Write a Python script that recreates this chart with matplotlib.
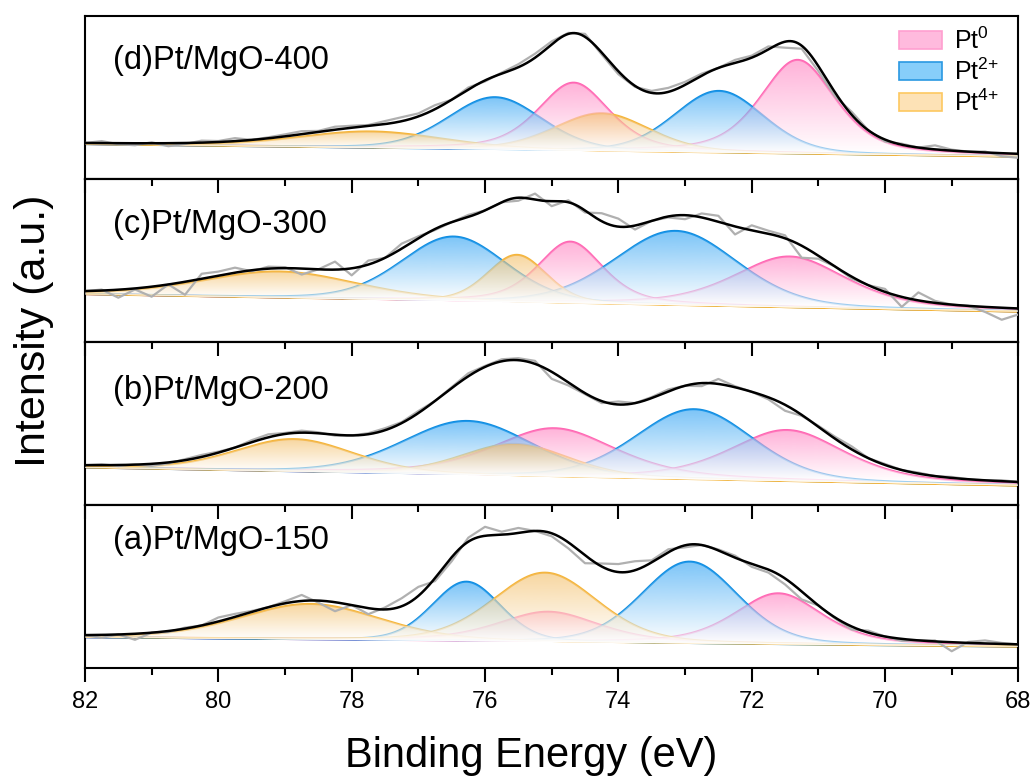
import numpy as np
import matplotlib.pyplot as plt
from matplotlib.patches import PathPatch, Patch
from matplotlib.path import Path
from matplotlib.colors import to_rgb

plt.rcParams['font.family'] = ['Liberation Sans', 'DejaVu Sans']
plt.rcParams['mathtext.fontset'] = 'custom'
plt.rcParams['mathtext.rm'] = 'Liberation Sans'
plt.rcParams['mathtext.default'] = 'regular'

# panels, bottom to top
panel_labels = ["(a)Pt/MgO-150", "(b)Pt/MgO-200", "(c)Pt/MgO-300", "(d)Pt/MgO-400"]
label_y = [0.785, 0.706, 0.724, 0.73]

major_ticks = [82, 80, 78, 76, 74, 72, 70, 68]
minor_ticks = [81, 79, 77, 75, 73, 71, 69]
tick_labels = ["82", "80", "78", "76", "74", "72", "70", "68"]

# linear background (intensity at 82 eV and at 68 eV)
base_hi = [31.0, 37.6, 47.9, 34.9]
base_lo = [21.6, 19.6, 30.5, 22.4]

# Pt 4f doublets: [4f7/2, 4f5/2] for each panel
pt0_pos = [[71.60, 75.05], [71.47, 74.96], [71.43, 74.72], [71.31, 74.67]]
pt0_amp = [[50.9, 30.2], [51.1, 48.4], [50.8, 61.6], [93.8, 68.0]]
pt0_fwhm = [[1.56, 1.80], [2.04, 2.18], [2.00, 1.16], [1.33, 1.27]]

pt2_pos = [[72.93, 76.28], [72.86, 76.26], [73.14, 76.47], [72.49, 75.85]]
pt2_amp = [[81.7, 59.4], [70.1, 54.0], [74.3, 64.5], [61.7, 52.4]]
pt2_fwhm = [[1.69, 1.21], [2.06, 2.28], [2.16, 1.85], [1.58, 1.66]]

pt4_pos = [[75.10, 78.62], [75.55, 78.86], [75.52, 79.08], [74.25, 77.70]]
pt4_amp = [[69.2, 35.6], [32.0, 32.5], [47.4, 26.3], [37.8, 16.5]]
pt4_fwhm = [[1.85, 2.48], [1.90, 2.10], [1.05, 2.75], [1.68, 2.60]]

# lorentzian share of each species
eta = [0.5, 0.2, 0.25]

# raw spectrum minus fit, every 0.25 eV from 82 to 68 eV
raw_dev = [
    [0, -3, 0, -6, 0, -1, 1, 0, 4, 3, 1, 0, 2, 6, -2, -9, 0, -6, 2, 8, 9, -3, -4, 4, 9, 3, 5, 0,
     -3, -6, -8, 3, 8, 9, 2, 3, -2, 0, 1, 2, -3, -3, -6, -8, 0, -1, -3, 2, 0, -2, 0, 1, -9, 1, 3, 1, 0],
    [0, 1, -1, 0, -2, -1, 1, 2, 1, 0, 2, 3, 1, 2, 1, -1, 0, 1, 2, 1, 2, 0, 1, 3, 1, 2, 2, 3,
     -7, -3, -1, -2, 3, 0, 1, 2, 0, -3, 5, 1, 0, -2, -6, -1, 1, 2, 3, 0, 1, 0, 1, 0, 1, 0, 0, 1, 0],
    [0, 1, -8, -1, -10, 0, -13, 5, 4, 5, -1, 2, 1, -6, 0, 8, -7, 4, 0, 5, 2, -1, 0, 2, 0, 0, -3, 6,
     -5, 2, -2, 8, 8, -4, 0, -1, -4, 4, 6, -8, 5, 3, 3, -12, -3, 0, -2, 0, 3, -10, 8, 2, 0, 0, -5, -12, -6],
    [0, 2, -1, -2, 1, -3, -1, 2, 1, 3, 0, 1, 2, 3, 1, 3, 2, 1, 3, 4, 3, 4, 0, 2, -1, 1, 3, 4,
     3, 1, 3, -2, -3, -1, 2, 4, 3, 2, 0, 3, 2, 3, -6, -3, -5, -4, 3, 0, -2, 1, 0, 4, 1, 0, 1, -3, -4],
]

species_names = ["Pt$^{0}$", "Pt$^{2{+}}$", "Pt$^{4{+}}$"]
line_colors = ["#ff66b3", "#108de0", "#f5b53a"]
fill_colors = ["#ff80c0", "#259ef3", "#f3bc61"]
legend_face = ["#ffbadd", "#87cefa", "#fde2b6"]
legend_edge = ["#ff9fd0", "#2a98e2", "#fdc860"]


def pseudo_voigt(x, pos, amp, fwhm, mix):
    u = (x - pos) / fwhm
    return amp * ((1 - mix) * np.exp(-4 * np.log(2) * u ** 2) + mix / (1 + 4 * u ** 2))


def peaks_of(i):
    out = []
    for s, (pos, amp, fw) in enumerate([(pt0_pos, pt0_amp, pt0_fwhm),
                                        (pt2_pos, pt2_amp, pt2_fwhm),
                                        (pt4_pos, pt4_amp, pt4_fwhm)]):
        for k in range(2):
            out.append((s, pos[i][k], amp[i][k], fw[i][k]))
    return out


def background(x, i):
    return base_lo[i] + (base_hi[i] - base_lo[i]) * (x - 68) / 14


def fit_curve(x, i):
    y = background(x, i)
    for s, p, a, w in peaks_of(i):
        y = y + pseudo_voigt(x, p, a, w, eta[s])
    return y


def gradient_fill(ax, x, lower, upper, color, alpha=0.6, zorder=3):
    verts = np.concatenate([np.column_stack([x, upper]),
                            np.column_stack([x[::-1], lower[::-1]])])
    patch = PathPatch(Path(verts), facecolor="none", edgecolor="none")
    ax.add_patch(patch)
    k = np.argmax(upper - lower)
    y0, y1 = lower[k], upper[k]
    ys = np.linspace(lower.min(), y1, 256)
    frac = np.clip((ys - y0) / (y1 - y0), 0, 1)[:, None]
    rgb = (1 - frac) * np.ones(3) + frac * np.array(to_rgb(color))
    img = np.zeros((256, 1, 4))
    img[:, 0, :3] = rgb
    img[:, 0, 3] = alpha
    im = ax.imshow(img, extent=(x.min(), x.max(), lower.min(), y1), origin="lower",
                   aspect="auto", zorder=zorder, interpolation="bilinear")
    im.set_clip_path(patch)


fig = plt.figure(figsize=(10.34, 7.76), dpi=100)
axes = fig.subplots(4, 1)
fig.subplots_adjust(left=0.0822, right=0.9849, top=0.9794, bottom=0.1388, hspace=0)

x = np.linspace(82, 68, 1401)

for row, ax in enumerate(axes):
    i = 3 - row
    bg = background(x, i)
    for s, p, a, w in peaks_of(i):
        top = bg + pseudo_voigt(x, p, a, w, eta[s])
        ax.plot(x, top, color=line_colors[s], lw=1.5, zorder=2)
        gradient_fill(ax, x, bg, top, fill_colors[s], alpha=0.6, zorder=3)

    xr = np.linspace(82, 68, len(raw_dev[i]))
    ax.plot(xr, fit_curve(xr, i) + np.array(raw_dev[i]), color="#b0b0b0", lw=1.6, zorder=5)
    ax.plot(x, fit_curve(x, i), color="black", lw=1.8, zorder=6)

    ax.text(0.0297, label_y[i], panel_labels[i], transform=ax.transAxes,
            fontsize=23.5, va="center", ha="left")

    ax.set_ylim(0, 163)
    ax.set_yticks([])
    ax.set_xlim(82, 68)
    if i == 0:
        ax.set_xticks(major_ticks)
        ax.set_xticks(minor_ticks, minor=True)
        ax.set_xticklabels(tick_labels, fontsize=17)
        ax.tick_params(axis="x", which="major", direction="out", length=10, width=1.5, pad=6)
        ax.tick_params(axis="x", which="minor", direction="out", length=5, width=1.5)
    else:
        ax.set_xticks([])
    if i < 3:
        # ticks hanging from the panel above
        sec = ax.secondary_xaxis("top")
        sec.set_xticks(major_ticks)
        sec.set_xticks(minor_ticks, minor=True)
        sec.set_xticklabels([])
        sec.tick_params(axis="x", which="major", direction="in", length=10, width=1.5)
        sec.tick_params(axis="x", which="minor", direction="in", length=5, width=1.5)
        sec.spines["top"].set_linewidth(1.5)
    for sp in ax.spines.values():
        sp.set_linewidth(1.5)

handles = [Patch(facecolor=legend_face[s], edgecolor=legend_edge[s], lw=1.2)
           for s in range(3)]
axes[0].legend(handles, species_names, loc="upper left", bbox_to_anchor=(0.8725, 0.93),
               frameon=False, fontsize=18, handlelength=1.72, handleheight=0.72,
               handletextpad=0.45, labelspacing=0.18, borderpad=0, borderaxespad=0)

fig.text(531 / 1034, 1 - 767 / 776, "Binding Energy (eV)", fontsize=30,
         ha="center", va="baseline")
fig.text(34 / 1034, 1 - 331 / 776, "Intensity (a.u.)", fontsize=31,
         ha="center", va="center", rotation=90)

fig.savefig("out.png", dpi=100)
